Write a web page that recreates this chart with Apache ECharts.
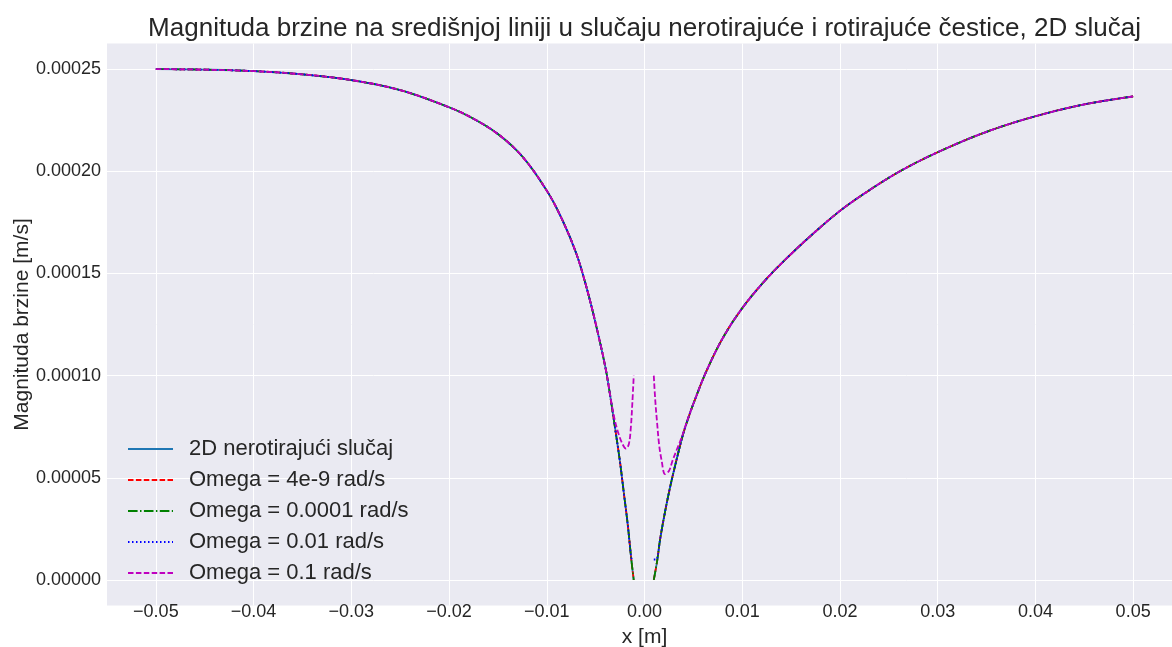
<!DOCTYPE html>
<html>
<head>
<meta charset="utf-8">
<script src="https://cdn.jsdelivr.net/npm/echarts@6/dist/echarts.min.js"></script>
<style>
html,body{margin:0;padding:0;background:#ffffff;}
#chart{width:1172px;height:647px;}
</style>
</head>
<body>
<div id="chart"></div>
<script>
// ---- data ----
const titleText = 'Magnituda brzine na središnjoj liniji u slučaju nerotirajuće i rotirajuće čestice, 2D slučaj';
const seriesNames = ['2D nerotirajući slučaj', 'Omega = 4e-9 rad/s', 'Omega = 0.0001 rad/s', 'Omega = 0.01 rad/s', 'Omega = 0.1 rad/s'];
const xTickValues = [-0.05, -0.04, -0.03, -0.02, -0.01, 0, 0.01, 0.02, 0.03, 0.04, 0.05];
const yTickValues = [0, 0.00005, 0.0001, 0.00015, 0.0002, 0.00025];

// far field, left of particle (shared by all cases)
const xOuterL = [-0.05, -0.045, -0.04, -0.035, -0.03, -0.025, -0.02, -0.0175, -0.015, -0.0125, -0.01, -0.0085, -0.007, -0.006, -0.005, -0.004];
const vOuterL = [0.0002500, 0.0002497, 0.0002490, 0.0002474, 0.0002446, 0.0002397, 0.0002313, 0.0002257, 0.0002182, 0.0002072, 0.0001905, 0.0001771, 0.0001600, 0.0001443, 0.0001255, 0.0001040];
// far field, right of particle (shared by all cases)
const xOuterR = [0.005, 0.0063, 0.008, 0.01, 0.0125, 0.015, 0.0175, 0.02, 0.0225, 0.026, 0.03, 0.035, 0.04, 0.045, 0.05];
const vOuterR = [0.0000862, 0.0001018, 0.0001183, 0.0001330, 0.0001474, 0.0001595, 0.0001705, 0.0001806, 0.0001891, 0.0001996, 0.0002093, 0.0002193, 0.0002269, 0.0002327, 0.0002366];

// near the particle, non-rotating (also 4e-9 and 0.0001 rad/s)
const xNearL0 = [-0.0035, -0.003, -0.0025, -0.0021, -0.0017, -0.00135, -0.0011];
const vNearL0 = [0.0000898, 0.0000740, 0.0000575, 0.0000420, 0.0000265, 0.0000100, 0];
const xNearR0 = [0.00095, 0.0013, 0.0016, 0.0021, 0.0026, 0.003, 0.0036, 0.004, 0.0045];
const vNearR0 = [0, 0.0000095, 0.0000200, 0.0000333, 0.0000450, 0.0000533, 0.0000650, 0.0000722, 0.0000795];

// near the particle, 0.01 rad/s
const xNearL2 = [-0.0035, -0.003, -0.0025, -0.0021, -0.0017, -0.0014, -0.00125, -0.0011];
const vNearL2 = [0.0000898, 0.0000740, 0.0000575, 0.0000420, 0.0000265, 0.0000125, 0.0000100, 0.0000100];
const xNearR2 = [0.00095, 0.0012, 0.0016, 0.0021, 0.0026, 0.003, 0.0036, 0.004, 0.0045];
const vNearR2 = [0.0000100, 0.0000100, 0.0000200, 0.0000333, 0.0000450, 0.0000533, 0.0000650, 0.0000722, 0.0000795];

// near the particle, 0.1 rad/s
const xNearL3 = [-0.0035, -0.0031, -0.0027, -0.0023, -0.0019, -0.0016, -0.0014, -0.00125, -0.0011];
const vNearL3 = [0.0000900, 0.0000795, 0.0000722, 0.0000670, 0.0000643, 0.0000665, 0.0000745, 0.0000860, 0.0001000];
const xNearR3 = [0.00095, 0.0011, 0.0013, 0.0015, 0.00175, 0.0021, 0.0025, 0.0029, 0.0033, 0.0038, 0.0042, 0.0045];
const vNearR3 = [0.0001000, 0.0000880, 0.0000763, 0.0000660, 0.0000585, 0.0000518, 0.0000533, 0.0000588, 0.0000637, 0.0000697, 0.0000755, 0.0000797];

// ---- build ----
function zip(xs, vs){ return xs.map((x, i) => [x, vs[i]]); }
function build(xl, vl, xr, vr){
  return zip(xOuterL, vOuterL).concat(zip(xl, vl), [[0, '-']], zip(xr, vr), zip(xOuterR, vOuterR));
}
const data0 = build(xNearL0, vNearL0, xNearR0, vNearR0);
const data2 = build(xNearL2, vNearL2, xNearR2, vNearR2);
const data3 = build(xNearL3, vNearL3, xNearR3, vNearR3);

const colors = ['#1f77b4', '#ff0000', '#008000', '#0000ff', '#bf00bf'];
const dashes = ['solid', [5.5, 2.4], [9.6, 2.4, 1.5, 2.4], [1.5, 2.5], [5.5, 2.4]];
const datasets = [data0, data0, data0, data2, data3];

const TXT = '#262626';
const FONT = '"Liberation Sans", Arial, sans-serif';

const chart = echarts.init(document.getElementById('chart'), null, {renderer: 'canvas'});
chart.setOption({
  animation: false,
  backgroundColor: '#ffffff',
  graphic: [{
    type: 'text',
    x: 644.5, y: 29,
    style: {
      text: titleText,
      align: 'center', verticalAlign: 'middle',
      fontFamily: FONT, fontSize: 26, fill: TXT
    }
  }],
  grid: {
    left: 107, right: -10, top: 43.5, bottom: 41.5,
    outerBoundsMode: 'none',
    containLabel: false,
    show: true, backgroundColor: '#EAEAF2', borderWidth: 0
  },
  legend: {
    orient: 'vertical',
    left: 127, top: 438,
    padding: 0,
    itemWidth: 45, itemHeight: 1, itemGap: 9,
    itemStyle: {opacity: 0},
    textStyle: {fontFamily: FONT, fontSize: 22, color: TXT, padding: [0, 0, 0, 11]},
    data: seriesNames
  },
  xAxis: {
    type: 'value',
    min: -0.055, max: 0.055,
    name: 'x [m]',
    nameLocation: 'middle',
    nameGap: 21,
    nameMoveOverlap: false,
    nameTextStyle: {fontFamily: FONT, fontSize: 21, color: TXT},
    axisLine: {show: false},
    axisTick: {show: false, customValues: xTickValues},
    axisLabel: {
      customValues: xTickValues,
      fontFamily: FONT, fontSize: 18, color: TXT, margin: -2,
      formatter: v => v.toFixed(2).replace('-', '\u2212')
    },
    splitLine: {show: true, lineStyle: {color: '#ffffff', width: 1}}
  },
  yAxis: {
    type: 'value',
    min: -0.0000125, max: 0.0002625,
    name: 'Magnituda brzine [m/s]',
    nameLocation: 'middle',
    nameGap: 74.5,
    nameMoveOverlap: false,
    nameTextStyle: {fontFamily: FONT, fontSize: 21, color: TXT},
    axisLine: {show: false},
    axisTick: {show: false, customValues: yTickValues},
    axisLabel: {
      customValues: yTickValues,
      fontFamily: FONT, fontSize: 18, color: TXT, margin: 6,
      formatter: v => v.toFixed(5)
    },
    splitLine: {show: true, lineStyle: {color: '#ffffff', width: 1}}
  },
  series: seriesNames.map((name, i) => ({
    name: name,
    type: 'line',
    data: datasets[i],
    symbol: 'none',
    showSymbol: false,
    smooth: 0.35,
    connectNulls: false,
    color: colors[i],
    lineStyle: {color: colors[i], width: 1.8, type: dashes[i]},
    z: 2 + i
  }))
});
</script>
</body>
</html>
